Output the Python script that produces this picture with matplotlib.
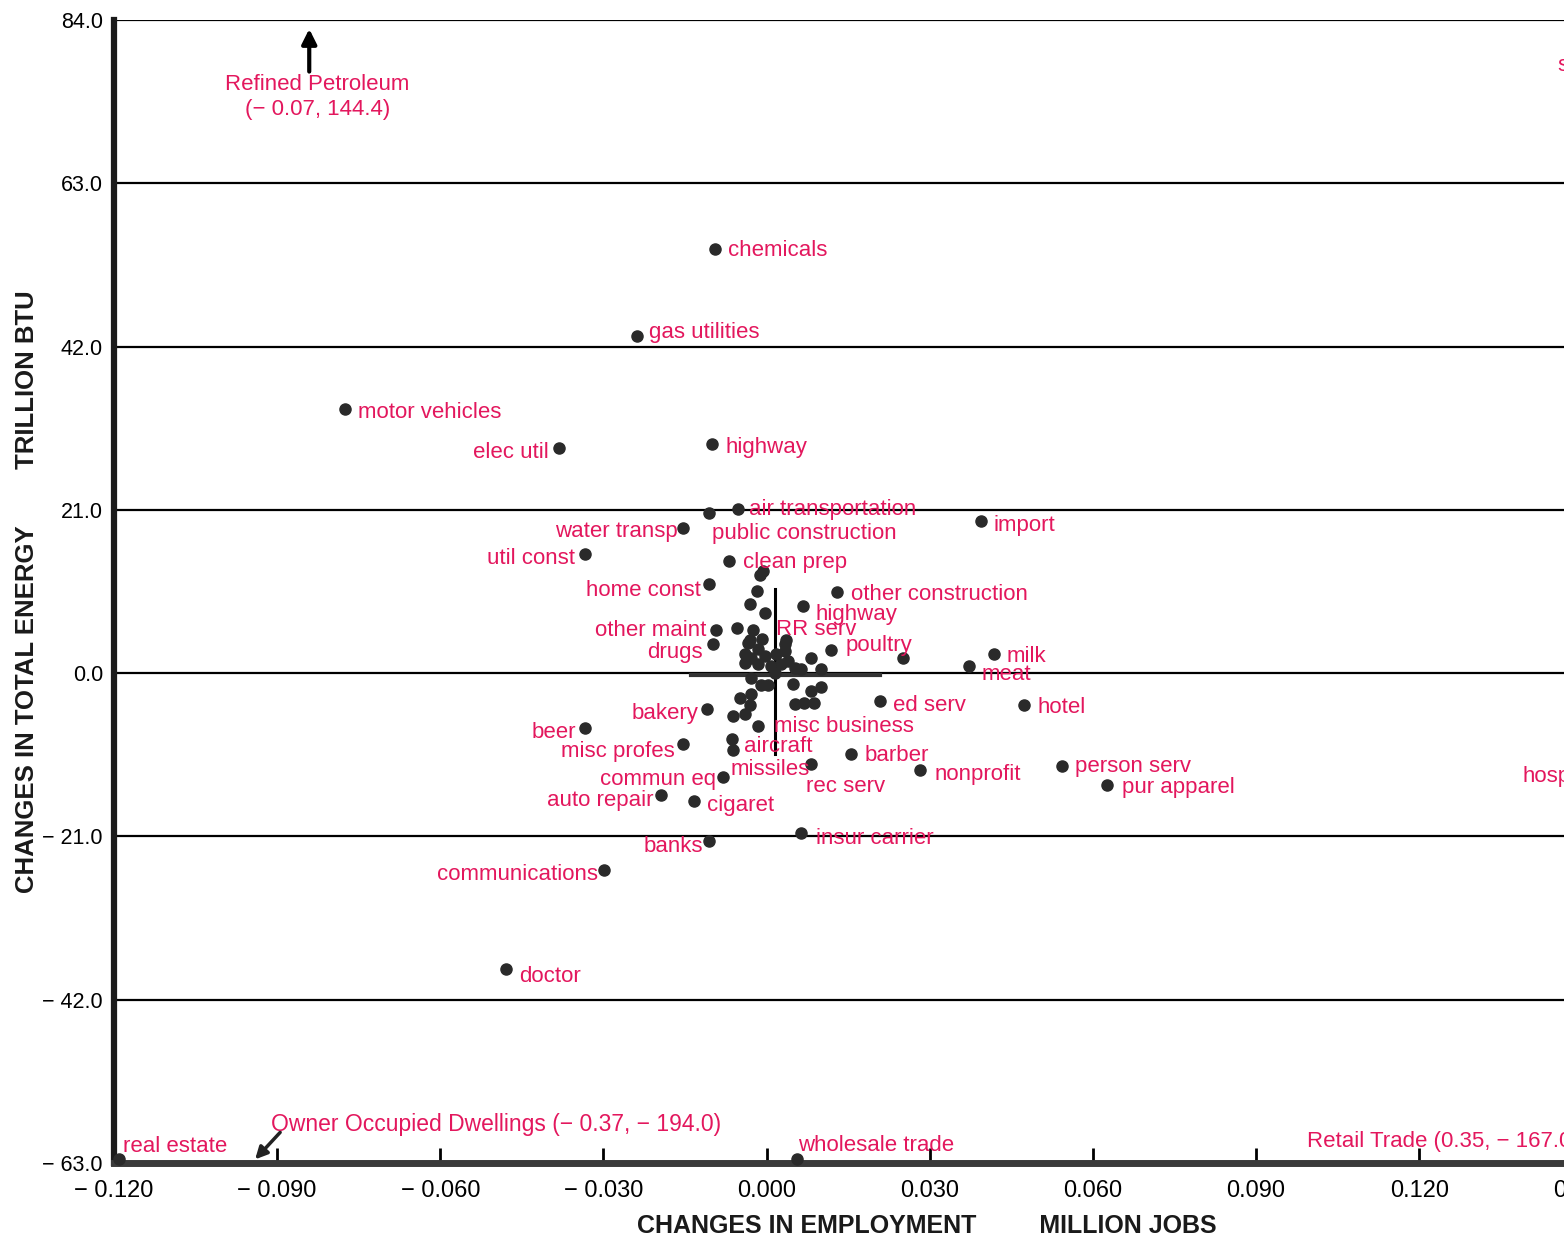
import matplotlib
matplotlib.use("Agg")
import matplotlib.pyplot as plt
from matplotlib.transforms import ScaledTranslation

# Labelled industries: change in employment (million jobs), change in energy (trillion BTU)
names = ['chemicals', 'gas utilities', 'motor vehicles', 'elec util', 'highway',
         'air transportation', 'public construction', 'water transp', 'import',
         'util const', 'clean prep', 'home const', 'other construction', 'highway',
         'other maint', 'RR serv', 'drugs', 'poultry', 'milk', 'meat', 'ed serv',
         'hotel', 'bakery', 'beer', 'misc business', 'misc profes', 'aircraft',
         'missiles', 'barber', 'rec serv', 'nonprofit', 'person serv', 'pur apparel',
         'commun eq', 'auto repair', 'cigaret', 'insur carrier', 'banks',
         'communications', 'doctor', 'real estate', 'wholesale trade']
emp = [-0.0095, -0.0239, -0.0775, -0.0382, -0.0100,
       -0.0053, -0.0106, -0.0154, 0.0395,
       -0.0333, -0.0069, -0.0106, 0.0130, 0.0067,
       -0.0093, 0.0036, -0.0099, 0.0119, 0.0419, 0.0373, 0.0209,
       0.0473, -0.0110, -0.0333, -0.0015, -0.0154, -0.0063,
       -0.0062, 0.0156, 0.0082, 0.0283, 0.0543, 0.0626,
       -0.0080, -0.0194, -0.0134, 0.0064, -0.0106,
       -0.0299, -0.0480, -0.1191, 0.0056]
energy = [54.6, 43.3, 34.0, 29.0, 29.5,
          21.1, 20.6, 18.7, 19.5,
          15.3, 14.4, 11.5, 10.4, 8.6,
          5.5, 4.3, 3.7, 3.0, 2.4, 0.9, -3.6,
          -4.1, -4.6, -7.0, -6.8, -9.1, -8.5,
          -9.9, -10.4, -11.7, -12.5, -11.9, -14.4,
          -13.4, -15.7, -16.5, -20.6, -21.6,
          -25.3, -38.1, -62.5, -62.5]

# unlabelled sectors in the cluster around the origin
cluster_emp = [-0.0012, -0.0006, -0.0018, -0.0030, -0.0003, -0.0054, -0.0025, -0.0008,
               -0.0030, -0.0034, -0.0016, 0.0034, -0.0040, -0.0029, -0.0003, 0.0018,
               0.0034, 0.0082, -0.0040, -0.0016, 0.0008, 0.0027, 0.0053, 0.0064,
               0.0100, -0.0029, -0.0010, 0.0003, 0.0049, 0.0100, 0.0082, -0.0049,
               -0.0029, -0.0030, -0.0040, 0.0053, 0.0069, 0.0088, -0.0062, 0.0250,
               0.0040, 0.0016]
cluster_energy = [12.6, 13.1, 10.6, 8.9, 7.7, 5.8, 5.5, 4.4,
                  4.3, 3.9, 3.1, 3.7, 2.4, 1.9, 2.2, 2.4,
                  2.8, 1.9, 1.3, 1.2, 0.9, 1.2, 0.6, 0.5,
                  0.5, -0.6, -1.5, -1.5, -1.4, -1.8, -2.3, -3.2,
                  -2.7, -4.1, -5.2, -4.0, -3.9, -3.9, -5.5, 1.9,
                  1.5, 0.0]

xticks = [-0.120, -0.090, -0.060, -0.030, 0.000, 0.030, 0.060, 0.090, 0.120, 0.150]
yticks = [-63.0, -42.0, -21.0, 0.0, 21.0, 42.0, 63.0, 84.0]

# label offsets in pixels (dx, dy, alignment) - layout only
offsets = [(13, -2, 'left'), (12, 4, 'left'), (13, -4, 'left'), (-10, -5, 'right'), (13, -4, 'left'),
           (11, 0, 'left'), (3, -21, 'left'), (-5, -4, 'right'), (12, -4, 'left'),
           (-10, -4, 'right'), (14, -1, 'left'), (-8, -7, 'right'), (14, -2, 'left'), (12, -8, 'left'),
           (-10, 0, 'right'), (-10, 10, 'left'), (-10, -8, 'right'), (14, 4, 'left'), (12, -2, 'left'),
           (12, -8, 'left'), (13, -4, 'left'),
           (14, -3, 'left'), (-8, -5, 'right'), (-9, -5, 'right'), (16, -1, 'left'), (-8, -8, 'right'),
           (12, -7, 'left'),
           (-2, -19, 'left'), (13, -2, 'left'), (-5, -22, 'left'), (14, -4, 'left'), (13, -1, 'left'),
           (15, -2, 'left'),
           (-7, -2, 'right'), (-8, -5, 'right'), (13, -4, 'left'), (15, -5, 'left'), (-6, -5, 'right'),
           (-6, -5, 'right'), (14, -7, 'left'), (4, 13, 'left'), (1, 14, 'left')]

PINK = '#e3175d'
DOT = '#2a2a2a'
NARROW = ['Liberation Sans Narrow', 'Liberation Sans']
plt.rcParams['font.family'] = ['Liberation Sans', 'DejaVu Sans']

fig = plt.figure(figsize=(15.64, 12.38), dpi=100, facecolor='white')
# axes run past the right edge of the page, like the cropped scan
ax = fig.add_axes([0.0729, 0.0606, 1.0431, 0.9233])
ax.set_xlim(-0.120, 0.180)
ax.set_ylim(-63, 84)

for v in yticks:
    ax.axhline(v, color='black', lw=1.6, zorder=1)

for s in ['top', 'right']:
    ax.spines[s].set_visible(False)
ax.spines['left'].set_linewidth(4.5)
ax.spines['left'].set_color('#1a1a1a')
ax.spines['bottom'].set_linewidth(5)
ax.spines['bottom'].set_color('#3a3a3a')

def fmt(v, d):
    s = f"{abs(v):.{d}f}"
    return ("\u2212 " + s) if v < 0 else s

ax.set_xticks(xticks)
ax.set_xticklabels([fmt(v, 3) for v in xticks], family=NARROW, fontsize=17)
# keep the number centred on the tick, minus sign hanging to the left
for v, lab in zip(xticks, ax.get_xticklabels()):
    if v < 0:
        lab.set_transform(lab.get_transform() + ScaledTranslation(-9 / 100, 0, fig.dpi_scale_trans))
ax.set_yticks(yticks)
ax.set_yticklabels([fmt(v, 1) for v in yticks], fontsize=15.5)
ax.tick_params(axis='x', direction='in', length=11, width=2, pad=12, colors='black')
ax.tick_params(axis='y', length=0, pad=8)

# origin cross
ax.plot([-0.0139, 0.0209], [-0.3, -0.3], color='#333333', lw=3, zorder=2)
ax.plot([0.0016, 0.0016], [10.8, -10.4], color='black', lw=2.2, zorder=2)

ax.scatter(cluster_emp, cluster_energy, s=64, color=DOT, zorder=3, clip_on=False)
ax.scatter(emp, energy, s=64, color=DOT, zorder=3, clip_on=False)

for n, x, y, (dx, dy, ha) in zip(names, emp, energy, offsets):
    ax.annotate(n, (x, y), xytext=(dx, dy), textcoords='offset pixels', ha=ha, va='center',
                color=PINK, fontsize=16, zorder=4)

# off-scale sectors
ax.annotate('', xy=(-0.0841, 83.2), xytext=(-0.0841, 77.0),
            arrowprops=dict(arrowstyle='-|>', color='black', lw=3, mutation_scale=22))
ax.text(-0.0826, 77.0, 'Refined Petroleum\n(\u2212 0.07, 144.4)', ha='center', va='top',
        color=PINK, fontsize=16, linespacing=1.2)
ax.annotate('', xy=(-0.0944, -62.8), xytext=(-0.0891, -58.8),
            arrowprops=dict(arrowstyle='-|>', color='#222222', lw=2.5, mutation_scale=18))
ax.text(-0.0911, -58.0, 'Owner Occupied Dwellings (\u2212 0.37, \u2212 194.0)', ha='left',
        va='center', color=PINK, fontsize=16.5, family=NARROW)
ax.text(0.0994, -60.2, 'Retail Trade (0.35, \u2212 167.0)', ha='left', va='center', color=PINK,
        fontsize=16, family=NARROW)
ax.text(0.1455, 78.2, 'steel', ha='left', va='center', color=PINK, fontsize=16)
ax.text(0.1390, -13.3, 'hospitals', ha='left', va='center', color=PINK, fontsize=16)

fig.text(927 / 1564, 1 - 1226 / 1238, 'CHANGES IN EMPLOYMENT         MILLION JOBS',
         ha='center', va='center', fontsize=18, fontweight='bold', family=NARROW, color='#1a1a1a')
fig.text(27 / 1564, 1 - 592 / 1238, 'CHANGES IN TOTAL ENERGY        TRILLION BTU',
         ha='center', va='center', rotation=90, fontsize=18.5, fontweight='bold', color='#1a1a1a')

fig.savefig('out.png', dpi=100, facecolor='white')
